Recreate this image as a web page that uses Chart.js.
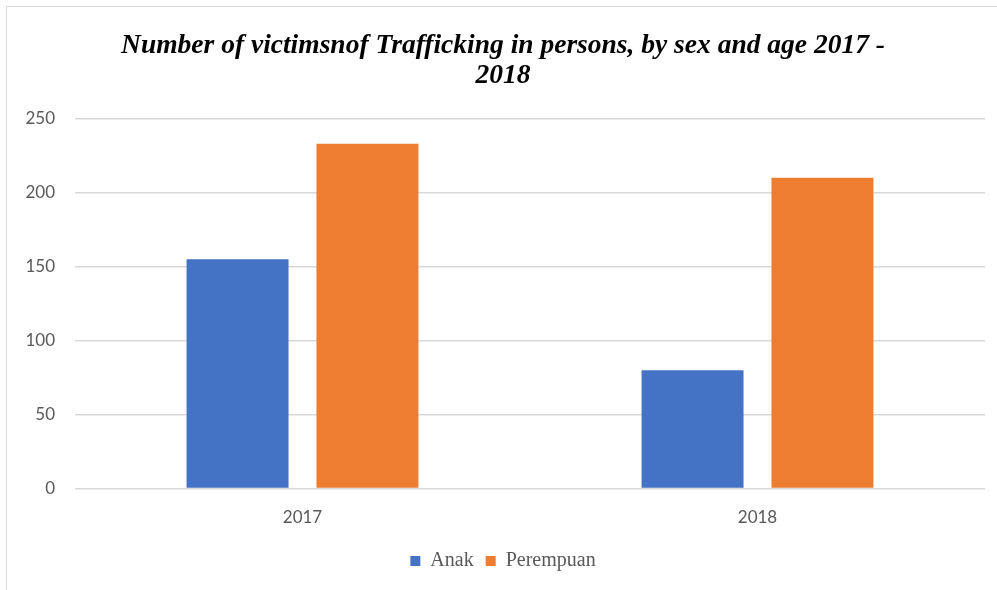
<!DOCTYPE html>
<html>
<head>
<meta charset="utf-8">
<script src="https://cdn.jsdelivr.net/npm/chart.js@4"></script>
<style>
  body { margin: 0; background: #fff; overflow: hidden; }
  #wrap { position: relative; width: 997px; height: 590px; }
  #frame {
    position: absolute; left: 6px; top: 6px; width: 1200px; height: 800px;
    border-left: 1px solid #d9d9d9; border-top: 1px solid #d9d9d9;
    pointer-events: none;
  }
</style>
</head>
<body>
<div id="wrap">
  <canvas id="chart" width="997" height="590"></canvas>
  <div id="frame"></div>
</div>
<script>
const years = ['2017', '2018'];
const anak = [155, 80];
const perempuan = [233, 210];
const seriesNames = ['Anak', 'Perempuan'];
const titleLines = ['Number of victimsnof Trafficking in persons, by sex and age 2017 -', '2018'];

const ctx = document.getElementById('chart').getContext('2d');

const chart = new Chart(ctx, {
    type: 'bar',
    data: {
        labels: years,
        datasets: [{
            label: seriesNames[0],
            data: anak,
            backgroundColor: '#4472c4'
        }, {
            label: seriesNames[1],
            data: perempuan,
            backgroundColor: '#ed7d31'
        }]
    },
    options: {
        responsive: false,
        animation: false,
        categoryPercentage: 0.571,
        barPercentage: 0.785,
        layout: {
            padding: { left: 21, right: 12, top: 0, bottom: 9 }
        },
        plugins: {
            title: {
                display: true,
                text: titleLines,
                color: '#000',
                font: { family: 'Liberation Serif', size: 27.5, weight: 'bold', style: 'italic', lineHeight: 1.1 },
                padding: { top: 31, bottom: 27 }
            },
            legend: {
                position: 'bottom',
                labels: {
                    boxWidth: 10,
                    boxHeight: 10,
                    padding: 12,
                    color: '#595959',
                    font: { family: 'Liberation Serif', size: 20 }
                }
            },
            tooltip: { enabled: false }
        },
        scales: {
            x: {
                grid: { display: false },
                border: { display: false },
                ticks: {
                    color: '#595959',
                    font: { family: 'Lato', size: 17 },
                    padding: 11
                }
            },
            y: {
                min: 0,
                max: 250,
                afterFit: function(scale) { scale.width = 54; },
                grid: { color: '#d9d9d9', lineWidth: 1.5, drawTicks: false },
                border: { display: false },
                ticks: {
                    stepSize: 50,
                    color: '#595959',
                    font: { family: 'Lato', size: 17 },
                    padding: 20
                }
            }
        }
    }
});
</script>
</body>
</html>
